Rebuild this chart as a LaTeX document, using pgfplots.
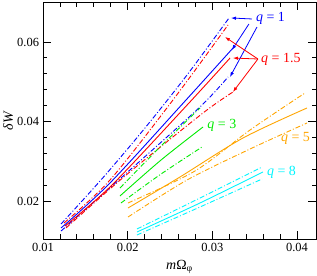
\documentclass[border=0pt]{standalone}
\usepackage{fontspec}
\setmainfont{Liberation Serif}
\usepackage{pgfplots}
\pgfplotsset{compat=1.18}
\usetikzlibrary{arrows.meta}
\definecolor{qblue}{RGB}{0,0,255}
\definecolor{qred}{RGB}{255,0,0}
\definecolor{qgreen}{RGB}{0,235,0}
\definecolor{qorange}{RGB}{255,165,0}
\definecolor{qcyan}{RGB}{0,245,255}
\tikzset{dd/.style={dash pattern=on 5bp off 2bp on 1bp off 2bp}}
\begin{document}
\begin{tikzpicture}
\begin{axis}[name=ax, scale only axis, width=273bp, height=237bp,
  xmin=0.01, xmax=0.04224, ymin=0.01044, ymax=0.07006,
  xtick={0.01,0.02,0.03,0.04}, xticklabels={0.01,0.02,0.03,0.04},
  ytick={0.02,0.04,0.06}, yticklabels={0.02,0.04,0.06},
  scaled ticks=false,
  minor x tick num=4, minor y tick num=4,
  tick align=inside, major tick length=8bp, minor tick length=4.5bp,
  tick style={line width=0.8pt, black},
  axis line style={line width=1pt},
  ticklabel style={font=\fontsize{12.5}{14}\selectfont},
  xticklabel style={yshift=-1bp},
  yticklabel style={xshift=-0.5bp},
  xlabel={\textit{m}Ω\textsubscript{φ}},
  ylabel={\textit{δW}},
  label style={font=\fontsize{14}{16}\selectfont},
  xlabel style={at={(axis description cs:0.5,-0.118)}, anchor=center},
  ylabel style={at={(axis description cs:-0.128,0.5)}, anchor=center},
  every axis plot/.append style={line width=0.9pt, smooth},
  clip=true]
% q = 1 (blue)
\addplot[qblue] coordinates {(0.01213,0.01321) (0.01791,0.02453) (0.02689,0.04541) (0.03244,0.05849)};
\addplot[qblue,dd] coordinates {(0.01213,0.01421) (0.01708,0.02586) (0.02205,0.03838) (0.02703,0.05176) (0.03197,0.06604)};
\addplot[qblue,dd] coordinates {(0.01213,0.01245) (0.02027,0.02780) (0.02854,0.04365) (0.03185,0.05119)};
% q = 1.5 (red)
\addplot[qred] coordinates {(0.01260,0.01371) (0.01815,0.02403) (0.02713,0.04440) (0.03209,0.05597)};
\addplot[qred,dd] coordinates {(0.01248,0.01447) (0.01791,0.02528) (0.02535,0.04541) (0.03185,0.06428)};
\addplot[qred,dd] coordinates {(0.01272,0.01321) (0.01968,0.02629) (0.02890,0.04214) (0.03244,0.04742)};
% q = 3 (green)
\addplot[qgreen] coordinates {(0.01909,0.02126) (0.02394,0.03031) (0.02890,0.03862)};
\addplot[qgreen,dd] coordinates {(0.01909,0.02327) (0.02382,0.03358) (0.02854,0.04340)};
\addplot[qgreen,dd] coordinates {(0.01921,0.01950) (0.02394,0.02679) (0.02878,0.03358)};
% q = 5 (orange)
\addplot[qorange] coordinates {(0.02004,0.01824) (0.02618,0.02604) (0.03362,0.03585) (0.04118,0.04340)};
\addplot[qorange,dd] coordinates {(0.02004,0.01950) (0.02795,0.02755) (0.03445,0.03786) (0.04094,0.04717)};
\addplot[qorange,dd] coordinates {(0.02004,0.01597) (0.02701,0.02528) (0.03445,0.03308) (0.04118,0.03962)};
% q = 8 (cyan)
\addplot[qcyan] coordinates {(0.02110,0.01220) (0.02854,0.01950) (0.03598,0.02730)};
\addplot[qcyan,dd] coordinates {(0.02110,0.01296) (0.02854,0.02075) (0.03587,0.02855)};
\addplot[qcyan,dd] coordinates {(0.02110,0.01145) (0.02854,0.01849) (0.03587,0.02553)};
% annotations
\begin{scope}[line width=0.8pt, -{Latex[length=5bp,width=3.5bp]}]
\draw[qblue] (axis cs:0.03468,0.06579) -- (axis cs:0.03220,0.06604);
\draw[qblue] (axis cs:0.03432,0.06453) -- (axis cs:0.03231,0.05799);
\draw[qblue] (axis cs:0.03527,0.06377) -- (axis cs:0.03208,0.05119);
\draw[qred] (axis cs:0.03538,0.05572) -- (axis cs:0.03149,0.06126);
\draw[qred] (axis cs:0.03538,0.05572) -- (axis cs:0.03243,0.05597);
\draw[qred] (axis cs:0.03538,0.05572) -- (axis cs:0.03243,0.04742);
\end{scope}
\begin{scope}[font=\fontsize{14}{16}\selectfont]
\node[qblue, anchor=west, inner sep=0pt] at (axis cs:0.03515,0.06604) {\textit{q} = 1};
\node[qred, anchor=west, inner sep=0pt] at (axis cs:0.03575,0.05572) {\textit{q} = 1.5};
\node[qgreen, anchor=west, inner sep=0pt] at (axis cs:0.02940,0.03912) {\textit{q} = 3};
\node[qorange, anchor=west, inner sep=0pt] at (axis cs:0.03810,0.03585) {\textit{q} = 5};
\node[qcyan, anchor=west, inner sep=0pt] at (axis cs:0.03645,0.02730) {\textit{q} = 8};
\end{scope}
\end{axis}
\pgfresetboundingbox
\path ([shift={(-43bp,-37bp)}]ax.south west) rectangle ([shift={(1bp,2bp)}]ax.north east);
\end{tikzpicture}
\end{document}
